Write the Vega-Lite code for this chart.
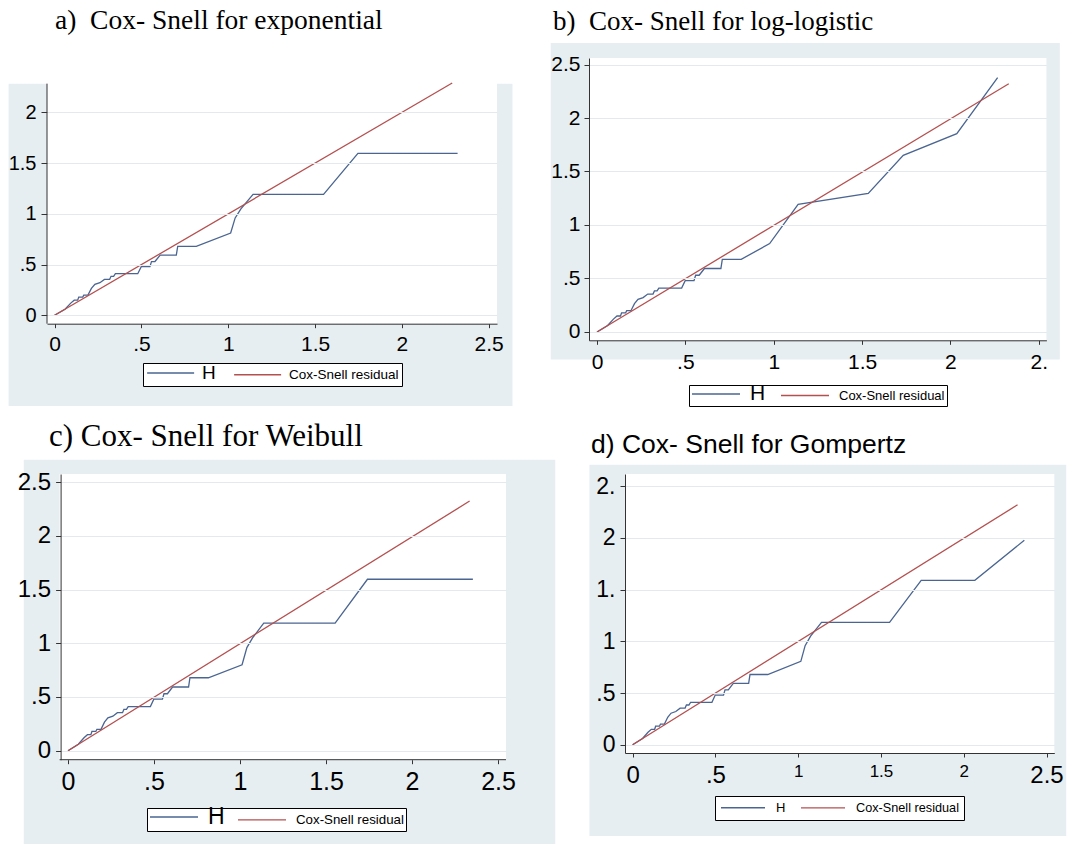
{
  "$schema": "https://vega.github.io/schema/vega-lite/v6.json",
  "background": "white",
  "padding": {"left": 8, "top": 6, "right": 0, "bottom": 0},
  "config": {"view": {"stroke": null}, "legend": {"layout": {"bottom": {"anchor": "middle"}}}},
  "datasets": {
    "curves": [
      {"p":"a","s":"H","x":0,"y":0},{"p":"a","s":"H","x":0.06,"y":0.06},{"p":"a","s":"H","x":0.093,"y":0.12},{"p":"a","s":"H","x":0.113,"y":0.149},{"p":"a","s":"H","x":0.133,"y":0.149},{"p":"a","s":"H","x":0.139,"y":0.179},{"p":"a","s":"H","x":0.162,"y":0.179},{"p":"a","s":"H","x":0.168,"y":0.199},{"p":"a","s":"H","x":0.192,"y":0.199},{"p":"a","s":"H","x":0.212,"y":0.265},{"p":"a","s":"H","x":0.232,"y":0.305},{"p":"a","s":"H","x":0.261,"y":0.321},{"p":"a","s":"H","x":0.287,"y":0.354},{"p":"a","s":"H","x":0.317,"y":0.354},{"p":"a","s":"H","x":0.325,"y":0.384},{"p":"a","s":"H","x":0.34,"y":0.384},{"p":"a","s":"H","x":0.35,"y":0.41},{"p":"a","s":"H","x":0.479,"y":0.41},{"p":"a","s":"H","x":0.499,"y":0.48},{"p":"a","s":"H","x":0.549,"y":0.48},{"p":"a","s":"H","x":0.558,"y":0.53},{"p":"a","s":"H","x":0.578,"y":0.53},{"p":"a","s":"H","x":0.608,"y":0.593},{"p":"a","s":"H","x":0.701,"y":0.593},{"p":"a","s":"H","x":0.709,"y":0.679},{"p":"a","s":"H","x":0.816,"y":0.679},{"p":"a","s":"H","x":1.014,"y":0.811},{"p":"a","s":"H","x":1.04,"y":0.96},{"p":"a","s":"H","x":1.073,"y":1.05},{"p":"a","s":"H","x":1.143,"y":1.192},{"p":"a","s":"H","x":1.549,"y":1.192},{"p":"a","s":"H","x":1.747,"y":1.596},{"p":"a","s":"H","x":2.321,"y":1.596},
      {"p":"a","s":"Cox-Snell residual","x":0,"y":0},{"p":"a","s":"Cox-Snell residual","x":2.29,"y":2.29},
      {"p":"b","s":"H","x":0,"y":0},{"p":"b","s":"H","x":0.06,"y":0.06},{"p":"b","s":"H","x":0.093,"y":0.12},{"p":"b","s":"H","x":0.113,"y":0.149},{"p":"b","s":"H","x":0.133,"y":0.149},{"p":"b","s":"H","x":0.139,"y":0.179},{"p":"b","s":"H","x":0.162,"y":0.179},{"p":"b","s":"H","x":0.168,"y":0.199},{"p":"b","s":"H","x":0.192,"y":0.199},{"p":"b","s":"H","x":0.212,"y":0.265},{"p":"b","s":"H","x":0.232,"y":0.305},{"p":"b","s":"H","x":0.261,"y":0.321},{"p":"b","s":"H","x":0.287,"y":0.354},{"p":"b","s":"H","x":0.317,"y":0.354},{"p":"b","s":"H","x":0.325,"y":0.384},{"p":"b","s":"H","x":0.34,"y":0.384},{"p":"b","s":"H","x":0.35,"y":0.41},{"p":"b","s":"H","x":0.479,"y":0.41},{"p":"b","s":"H","x":0.499,"y":0.48},{"p":"b","s":"H","x":0.549,"y":0.48},{"p":"b","s":"H","x":0.558,"y":0.53},{"p":"b","s":"H","x":0.578,"y":0.53},{"p":"b","s":"H","x":0.608,"y":0.593},{"p":"b","s":"H","x":0.701,"y":0.593},{"p":"b","s":"H","x":0.709,"y":0.679},{"p":"b","s":"H","x":0.816,"y":0.679},{"p":"b","s":"H","x":0.977,"y":0.826},{"p":"b","s":"H","x":1.138,"y":1.193},{"p":"b","s":"H","x":1.535,"y":1.296},{"p":"b","s":"H","x":1.733,"y":1.651},{"p":"b","s":"H","x":2.036,"y":1.854},{"p":"b","s":"H","x":2.267,"y":2.377},
      {"p":"b","s":"Cox-Snell residual","x":0,"y":0},{"p":"b","s":"Cox-Snell residual","x":2.33,"y":2.32},
      {"p":"c","s":"H","x":0,"y":0},{"p":"c","s":"H","x":0.06,"y":0.06},{"p":"c","s":"H","x":0.093,"y":0.12},{"p":"c","s":"H","x":0.113,"y":0.149},{"p":"c","s":"H","x":0.133,"y":0.149},{"p":"c","s":"H","x":0.139,"y":0.179},{"p":"c","s":"H","x":0.162,"y":0.179},{"p":"c","s":"H","x":0.168,"y":0.199},{"p":"c","s":"H","x":0.192,"y":0.199},{"p":"c","s":"H","x":0.212,"y":0.265},{"p":"c","s":"H","x":0.232,"y":0.305},{"p":"c","s":"H","x":0.261,"y":0.321},{"p":"c","s":"H","x":0.287,"y":0.354},{"p":"c","s":"H","x":0.317,"y":0.354},{"p":"c","s":"H","x":0.325,"y":0.384},{"p":"c","s":"H","x":0.34,"y":0.384},{"p":"c","s":"H","x":0.35,"y":0.41},{"p":"c","s":"H","x":0.479,"y":0.41},{"p":"c","s":"H","x":0.499,"y":0.48},{"p":"c","s":"H","x":0.549,"y":0.48},{"p":"c","s":"H","x":0.558,"y":0.53},{"p":"c","s":"H","x":0.578,"y":0.53},{"p":"c","s":"H","x":0.608,"y":0.593},{"p":"c","s":"H","x":0.701,"y":0.593},{"p":"c","s":"H","x":0.709,"y":0.679},{"p":"c","s":"H","x":0.816,"y":0.679},{"p":"c","s":"H","x":1.012,"y":0.8},{"p":"c","s":"H","x":1.04,"y":0.96},{"p":"c","s":"H","x":1.073,"y":1.05},{"p":"c","s":"H","x":1.138,"y":1.187},{"p":"c","s":"H","x":1.553,"y":1.187},{"p":"c","s":"H","x":1.741,"y":1.596},{"p":"c","s":"H","x":2.354,"y":1.596},
      {"p":"c","s":"Cox-Snell residual","x":0,"y":0},{"p":"c","s":"Cox-Snell residual","x":2.335,"y":2.324},
      {"p":"d","s":"H","x":0,"y":0},{"p":"d","s":"H","x":0.06,"y":0.06},{"p":"d","s":"H","x":0.093,"y":0.12},{"p":"d","s":"H","x":0.113,"y":0.149},{"p":"d","s":"H","x":0.133,"y":0.149},{"p":"d","s":"H","x":0.139,"y":0.179},{"p":"d","s":"H","x":0.162,"y":0.179},{"p":"d","s":"H","x":0.168,"y":0.199},{"p":"d","s":"H","x":0.192,"y":0.199},{"p":"d","s":"H","x":0.212,"y":0.265},{"p":"d","s":"H","x":0.232,"y":0.305},{"p":"d","s":"H","x":0.261,"y":0.321},{"p":"d","s":"H","x":0.287,"y":0.354},{"p":"d","s":"H","x":0.317,"y":0.354},{"p":"d","s":"H","x":0.325,"y":0.384},{"p":"d","s":"H","x":0.34,"y":0.384},{"p":"d","s":"H","x":0.35,"y":0.41},{"p":"d","s":"H","x":0.479,"y":0.41},{"p":"d","s":"H","x":0.499,"y":0.48},{"p":"d","s":"H","x":0.549,"y":0.48},{"p":"d","s":"H","x":0.558,"y":0.53},{"p":"d","s":"H","x":0.578,"y":0.53},{"p":"d","s":"H","x":0.608,"y":0.593},{"p":"d","s":"H","x":0.701,"y":0.593},{"p":"d","s":"H","x":0.709,"y":0.679},{"p":"d","s":"H","x":0.816,"y":0.679},{"p":"d","s":"H","x":1.016,"y":0.806},{"p":"d","s":"H","x":1.042,"y":0.958},{"p":"d","s":"H","x":1.075,"y":1.05},{"p":"d","s":"H","x":1.141,"y":1.184},{"p":"d","s":"H","x":1.552,"y":1.184},{"p":"d","s":"H","x":1.743,"y":1.59},{"p":"d","s":"H","x":2.067,"y":1.59},{"p":"d","s":"H","x":2.366,"y":1.977},
      {"p":"d","s":"Cox-Snell residual","x":0,"y":0},{"p":"d","s":"Cox-Snell residual","x":2.325,"y":2.32}
    ]
  },
  "resolve": {"scale": {"x": "independent", "y": "independent", "color": "independent"}, "legend": {"color": "independent"}, "axis": {"x": "independent", "y": "independent"}},
  "spacing": 14,
  "vconcat": [
    {
      "spacing": 37,
      "resolve": {"scale": {"x": "independent", "y": "independent", "color": "independent"}, "legend": {"color": "independent"}, "axis": {"x": "independent", "y": "independent"}},
      "hconcat": [
        {
          "width": 450, "height": 265.7,
          "title": {"text": "a)\u00a0 Cox- Snell for exponential", "anchor": "start", "frame": "group", "dx": 8, "offset": 1.7, "baseline": "alphabetic", "font": "Liberation Serif", "fontSize": 27.5, "fontWeight": "normal", "color": "black"},
          "layer": [
            {"data": {"values": [{}]}, "mark": {"type": "rect", "color": "#E7EEF1", "clip": false},
             "encoding": {"x": {"datum": -0.265, "type": "quantitative", "scale": {"domain": [-0.0438, 2.548], "nice": false, "zero": false}}, "x2": {"datum": 2.637},
                          "y": {"datum": -0.894, "type": "quantitative", "scale": {"domain": [-0.083, 2.537], "nice": false, "zero": false}}, "y2": {"datum": 2.284}}},
            {"data": {"values": [{}]}, "mark": {"type": "rect", "color": "white"},
             "encoding": {"x": {"datum": -0.0438, "type": "quantitative"}, "x2": {"datum": 2.548},
                          "y": {"datum": -0.083, "type": "quantitative"}, "y2": {"datum": 2.537}}},
            {"data": {"values": [{}]}, "mark": {"type": "rule", "color": "#333333", "strokeWidth": 1},
             "encoding": {"x": {"datum": -0.0438, "type": "quantitative"}, "y": {"datum": -0.083, "type": "quantitative"}, "y2": {"datum": 2.284}}},
            {"data": {"name": "curves"}, "transform": [{"filter": "datum.p === 'a'"}],
             "mark": {"type": "line", "strokeWidth": 1.3},
             "encoding": {
               "x": {"field": "x", "type": "quantitative", "scale": {"domain": [-0.0438, 2.548], "nice": false, "zero": false},
                     "axis": {"values": [0, 0.5, 1, 1.5, 2, 2.5], "labelExpr": "datum.value == 0.5 ? '.5' : format(datum.value, '~g')", "title": null, "grid": false, "tickSize": 4, "tickColor": "#333333", "domainColor": "#333333", "labelFont": "Liberation Sans", "labelFontSize": 21, "labelColor": "black", "labelPadding": 6, "labelFlush": false, "labelOverlap": false, "zindex": 1}},
               "y": {"field": "y", "type": "quantitative", "scale": {"domain": [-0.083, 2.537], "nice": false, "zero": false},
                     "axis": {"values": [0, 0.5, 1, 1.5, 2], "labelExpr": "datum.value == 0.5 ? '.5' : format(datum.value, '~g')", "title": null, "grid": true, "gridColor": "#E3EAEE", "domain": false, "tickSize": 6, "tickColor": "#333333", "labelFont": "Liberation Sans", "labelFontSize": 20, "labelColor": "black", "labelPadding": 5, "labelOverlap": false, "zindex": 1}},
               "color": {"field": "s", "type": "nominal", "scale": {"domain": ["H", "Cox-Snell residual"], "range": ["#4A6591", "#B4504F"]},
                         "legend": {"title": null, "orient": "bottom", "direction": "horizontal", "symbolType": "M-1,0H7", "symbolSize": 138, "symbolStrokeWidth": 1.3, "labelFont": "Liberation Sans", "labelFontSize": {"expr": "datum.value === 'H' ? 19 : 13.5"}, "labelColor": "black", "strokeColor": "black", "fillColor": "white", "padding": 3, "columnPadding": 15, "labelOffset": 42, "offset": 8}}
             }}
          ]
        },
        {
          "width": 457.4, "height": 282.3,
          "title": {"text": "b)\u00a0 Cox- Snell for log-logistic", "anchor": "start", "frame": "group", "dx": -36, "offset": -14.3, "baseline": "alphabetic", "font": "Liberation Serif", "fontSize": 27, "fontWeight": "normal", "color": "black"},
          "layer": [
            {"data": {"values": [{}]}, "mark": {"type": "rect", "color": "#E7EEF1", "clip": false},
             "encoding": {"x": {"datum": -0.262, "type": "quantitative", "scale": {"domain": [-0.0453, 2.543], "nice": false, "zero": false}}, "x2": {"datum": 2.619},
                          "y": {"datum": -0.258, "type": "quantitative", "scale": {"domain": [-0.078, 2.561], "nice": false, "zero": false}}, "y2": {"datum": 2.701}}},
            {"data": {"values": [{}]}, "mark": {"type": "rect", "color": "white"},
             "encoding": {"x": {"datum": -0.0453, "type": "quantitative"}, "x2": {"datum": 2.543},
                          "y": {"datum": -0.078, "type": "quantitative"}, "y2": {"datum": 2.561}}},
            {"data": {"name": "curves"}, "transform": [{"filter": "datum.p === 'b'"}],
             "mark": {"type": "line", "strokeWidth": 1.3},
             "encoding": {
               "x": {"field": "x", "type": "quantitative", "scale": {"domain": [-0.0453, 2.543], "nice": false, "zero": false},
                     "axis": {"values": [0, 0.5, 1, 1.5, 2, 2.5], "labelExpr": "datum.value == 0.5 ? '.5' : datum.value == 2.5 ? '2.' : format(datum.value, '~g')", "title": null, "grid": false, "tickSize": 4, "tickColor": "#333333", "domainColor": "#333333", "labelFont": "Liberation Sans", "labelFontSize": 21, "labelColor": "black", "labelPadding": 7, "labelFlush": false, "labelOverlap": false, "zindex": 1}},
               "y": {"field": "y", "type": "quantitative", "scale": {"domain": [-0.078, 2.561], "nice": false, "zero": false},
                     "axis": {"values": [0, 0.5, 1, 1.5, 2, 2.5], "labelExpr": "datum.value == 0.5 ? '.5' : format(datum.value, '~g')", "title": null, "grid": true, "gridColor": "#E3EAEE", "domainColor": "#333333", "tickSize": 5, "tickColor": "#333333", "labelFont": "Liberation Sans", "labelFontSize": 21, "labelColor": "black", "labelPadding": 4, "labelOverlap": false, "zindex": 1}},
               "color": {"field": "s", "type": "nominal", "scale": {"domain": ["H", "Cox-Snell residual"], "range": ["#4A6591", "#B4504F"]},
                         "legend": {"title": null, "orient": "bottom", "direction": "horizontal", "symbolType": "M-1,0H7", "symbolSize": 144, "symbolStrokeWidth": 1.3, "labelFont": "Liberation Sans", "labelFontSize": {"expr": "datum.value === 'H' ? 21 : 13"}, "labelColor": "black", "strokeColor": "black", "fillColor": "white", "padding": 2, "columnPadding": 12, "labelOffset": 45, "offset": 12}}
             }}
          ]
        }
      ]
    },
    {
      "spacing": 33,
      "resolve": {"scale": {"x": "independent", "y": "independent", "color": "independent"}, "legend": {"color": "independent"}, "axis": {"x": "independent", "y": "independent"}},
      "hconcat": [
        {
          "width": 459, "height": 285.7,
          "title": {"text": "c) Cox- Snell for Weibull", "anchor": "start", "frame": "group", "dx": 2, "offset": -17.3, "baseline": "alphabetic", "font": "Liberation Serif", "fontSize": 31, "fontWeight": "normal", "color": "black"},
          "layer": [
            {"data": {"values": [{}]}, "mark": {"type": "rect", "color": "#E7EEF1", "clip": false},
             "encoding": {"x": {"datum": -0.257, "type": "quantitative", "scale": {"domain": [-0.1221, 2.5465], "nice": false, "zero": false}}, "x2": {"datum": 2.833},
                          "y": {"datum": -0.869, "type": "quantitative", "scale": {"domain": [-0.084, 2.576], "nice": false, "zero": false}}, "y2": {"datum": 2.709}}},
            {"data": {"values": [{}]}, "mark": {"type": "rect", "color": "white"},
             "encoding": {"x": {"datum": -0.0488, "type": "quantitative"}, "x2": {"datum": 2.5465},
                          "y": {"datum": -0.084, "type": "quantitative"}, "y2": {"datum": 2.576}}},
            {"data": {"values": [{}]}, "mark": {"type": "rule", "color": "#333333", "strokeWidth": 1},
             "encoding": {"y": {"datum": -0.084, "type": "quantitative"}, "x": {"datum": -0.0488, "type": "quantitative"}, "x2": {"datum": 2.5465}}},
            {"data": {"name": "curves"}, "transform": [{"filter": "datum.p === 'c'"}],
             "mark": {"type": "line", "strokeWidth": 1.3},
             "encoding": {
               "x": {"field": "x", "type": "quantitative", "scale": {"domain": [-0.1221, 2.5465], "nice": false, "zero": false},
                     "axis": {"values": [0, 0.5, 1, 1.5, 2, 2.5], "labelExpr": "datum.value == 0.5 ? '.5' : format(datum.value, '~g')", "title": null, "grid": false, "domain": false, "tickSize": 4, "tickColor": "#333333", "labelFont": "Liberation Sans", "labelFontSize": 25, "labelColor": "black", "labelPadding": 6, "labelFlush": false, "labelOverlap": false, "zindex": 1}},
               "y": {"field": "y", "type": "quantitative", "scale": {"domain": [-0.084, 2.576], "nice": false, "zero": false},
                     "axis": {"values": [0, 0.5, 1, 1.5, 2, 2.5], "labelExpr": "datum.value == 0.5 ? '.5' : format(datum.value, '~g')", "title": null, "grid": true, "gridColor": "#E3EAEE", "offset": -13.6, "domainColor": "#333333", "tickSize": 5, "tickColor": "#333333", "labelFont": "Liberation Sans", "labelFontSize": 24, "labelColor": "black", "labelPadding": 5, "labelOverlap": false, "zindex": 1}},
               "color": {"field": "s", "type": "nominal", "scale": {"domain": ["H", "Cox-Snell residual"], "range": ["#4A6591", "#B4504F"]},
                         "legend": {"title": null, "orient": "bottom", "direction": "horizontal", "symbolType": "M-1,0H7", "symbolSize": 144, "symbolStrokeWidth": 1.3, "labelFont": "Liberation Sans", "labelFontSize": {"expr": "datum.value === 'H' ? 23 : 13.3"}, "labelColor": "black", "strokeColor": "black", "fillColor": "white", "padding": 2, "columnPadding": 10, "labelOffset": 45, "offset": 13}}
             }}
          ]
        },
        {
          "width": 429.3, "height": 279,
          "title": {"text": "d) Cox- Snell for Gompertz", "anchor": "start", "frame": "group", "dx": -34, "offset": -15.3, "baseline": "alphabetic", "font": "Liberation Sans", "fontSize": 26.5, "fontWeight": "normal", "color": "black"},
          "layer": [
            {"data": {"values": [{}]}, "mark": {"type": "rect", "color": "#E7EEF1", "clip": false},
             "encoding": {"x": {"datum": -0.261, "type": "quantitative", "scale": {"domain": [-0.046, 2.547], "nice": false, "zero": false}}, "x2": {"datum": 2.619},
                          "y": {"datum": -0.883, "type": "quantitative", "scale": {"domain": [-0.08, 2.618], "nice": false, "zero": false}}, "y2": {"datum": 2.708}}},
            {"data": {"values": [{}]}, "mark": {"type": "rect", "color": "white"},
             "encoding": {"x": {"datum": -0.046, "type": "quantitative"}, "x2": {"datum": 2.547},
                          "y": {"datum": -0.08, "type": "quantitative"}, "y2": {"datum": 2.618}}},
            {"data": {"name": "curves"}, "transform": [{"filter": "datum.p === 'd'"}],
             "mark": {"type": "line", "strokeWidth": 1.3},
             "encoding": {
               "x": {"field": "x", "type": "quantitative", "scale": {"domain": [-0.046, 2.547], "nice": false, "zero": false},
                     "axis": {"values": [0, 0.5, 1, 1.5, 2, 2.5], "labelExpr": "datum.value == 0.5 ? '.5' : format(datum.value, '~g')", "title": null, "grid": false, "tickSize": 4, "tickColor": "#333333", "domainColor": "#333333", "labelFont": "Liberation Sans", "labelFontSize": {"expr": "datum.value == 1 || datum.value == 1.5 || datum.value == 2 ? 17 : 24"}, "labelColor": "black", "labelPadding": 6, "labelFlush": false, "labelOverlap": false, "zindex": 1}},
               "y": {"field": "y", "type": "quantitative", "scale": {"domain": [-0.08, 2.618], "nice": false, "zero": false},
                     "axis": {"values": [0, 0.5, 1, 1.5, 2, 2.5], "labelExpr": "datum.value == 0.5 ? '.5' : datum.value == 1.5 ? '1.' : datum.value == 2.5 ? '2.' : format(datum.value, '~g')", "title": null, "grid": true, "gridColor": "#E3EAEE", "domainColor": "#333333", "tickSize": 5, "tickColor": "#333333", "labelFont": "Liberation Sans", "labelFontSize": 23, "labelColor": "black", "labelPadding": 5, "labelOverlap": false, "zindex": 1}},
               "color": {"field": "s", "type": "nominal", "scale": {"domain": ["H", "Cox-Snell residual"], "range": ["#4A6591", "#B4504F"]},
                         "legend": {"title": null, "orient": "bottom", "direction": "horizontal", "symbolType": "M-1,0H7", "symbolSize": 121, "symbolStrokeWidth": 1.3, "labelFont": "Liberation Sans", "labelFontSize": {"expr": "datum.value === 'H' ? 13 : 12.7"}, "labelColor": "black", "strokeColor": "black", "fillColor": "white", "padding": 5, "columnPadding": 12, "labelOffset": 43, "offset": 9}}
             }}
          ]
        }
      ]
    }
  ]
}
